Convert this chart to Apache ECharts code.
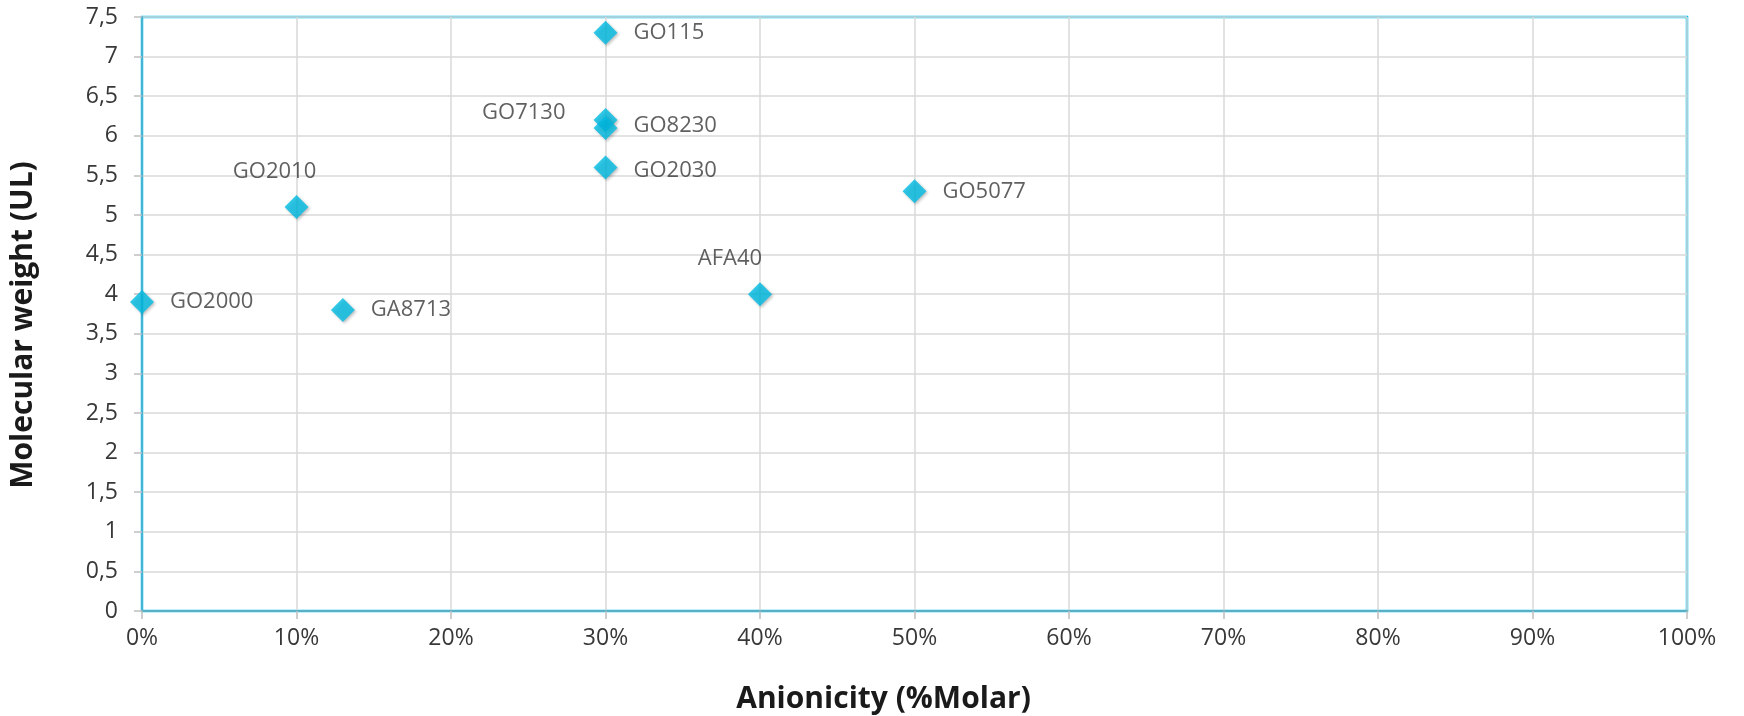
<!DOCTYPE html>
<html><head><meta charset="utf-8">
<script src="https://cdn.jsdelivr.net/npm/echarts@6/dist/echarts.min.js"></script>
<style>html,body{margin:0;padding:0;background:#fff}#c{width:1744px;height:716px}</style>
</head><body><div id="c"></div>
<script>
var names = ['GO2000','GO2010','GA8713','GO115','GO7130','GO8230','GO2030','AFA40','GO5077'];
var anionicity = [0, 0.10, 0.13, 0.30, 0.30, 0.30, 0.30, 0.40, 0.50];
var molWeight = [3.9, 5.1, 3.8, 7.3, 6.2, 6.1, 5.6, 4.0, 5.3];
var labelPos = ['right','top','right','right','left','right','right','top','right'];
var labelOffset = [[0,0],[-22,0],[0,0],[0,0],[0,-7],[0,-2],[0,3],[-30,0],[0,0]];

var FONT = '"Open Sans", sans-serif';
var TXT = '#383838';
var data = names.map(function(n,i){
  return {name:n, value:[anionicity[i], molWeight[i]],
    label:{position:labelPos[i], offset:labelOffset[i], distance: labelPos[i]==='top'?12:(labelPos[i]==='left'?28:16)}};
});
var chart = echarts.init(document.getElementById('c'));
chart.setOption({
  animation:false,
  grid:{left:142, top:17, right:57, bottom:105, show:true, borderColor:'#00C0EA', borderWidth:2.5, backgroundColor:'transparent',
    containLabel:false, outerBoundsMode:'none'},
  xAxis:{type:'value', min:0, max:1, interval:0.1,
    name:'Anionicity (%Molar)', nameLocation:'middle', nameGap:73,
    nameTextStyle:{fontFamily:FONT, fontWeight:'bold', fontSize:30, color:'#1a1a1a', padding:[0,62,0,0]},
    axisLine:{show:true, lineStyle:{color:'#5AAFC4', width:2}},
    axisTick:{show:true, length:8, lineStyle:{color:'#bfbfbf', width:1.5}},
    axisLabel:{fontFamily:FONT, fontSize:23, color:TXT, margin:16,
      formatter:function(v){return Math.round(v*100)+'%';}},
    splitLine:{show:true, lineStyle:{color:'#d9d9d9', width:1.5}}
  },
  yAxis:{type:'value', min:0, max:7.5, interval:0.5,
    name:'Molecular weight (UL)', nameLocation:'middle', nameGap:104,
    nameTextStyle:{fontFamily:FONT, fontWeight:'bold', fontSize:30, color:'#1a1a1a', padding:[0,22,0,0]},
    axisLine:{show:true, lineStyle:{color:'#45B3D3', width:2}},
    axisTick:{show:true, length:8, lineStyle:{color:'#bfbfbf', width:1.5}},
    axisLabel:{fontFamily:FONT, fontSize:23, color:TXT, margin:24,
      formatter:function(v){return String(v).replace('.',',');}},
    splitLine:{show:true, lineStyle:{color:'#d9d9d9', width:1.5}}
  },
  series:[{type:'scatter', symbol:'diamond', symbolSize:24,
    itemStyle:{color:'#00BCE4', shadowColor:'rgba(0,0,0,0.3)', shadowBlur:3, shadowOffsetX:1.5, shadowOffsetY:1.5},
    label:{show:true, formatter:'{b}', fontFamily:FONT, fontSize:22, color:TXT},
    data:data}]
});
</script></body></html>
